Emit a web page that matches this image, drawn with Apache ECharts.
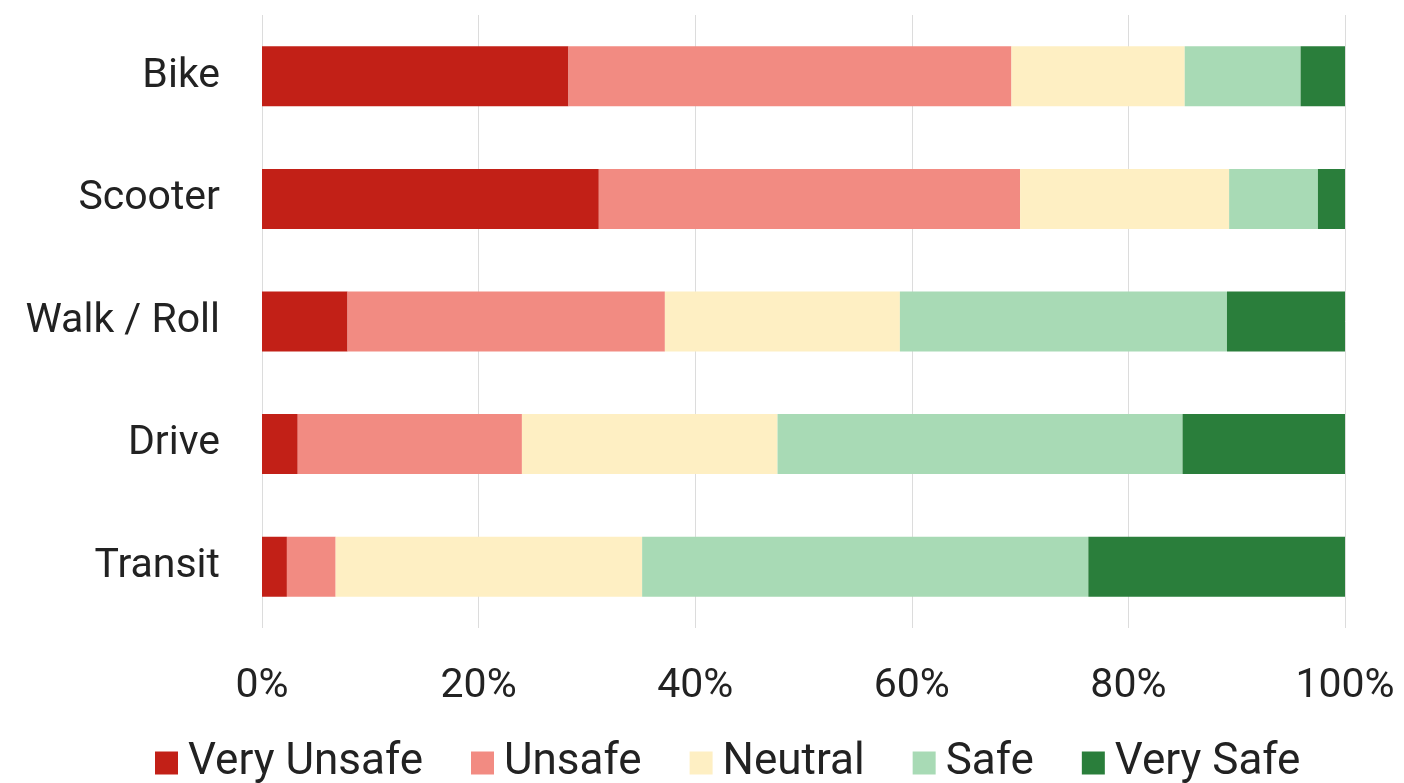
<!DOCTYPE html>
<html>
<head>
<meta charset="utf-8">
<script src="https://cdn.jsdelivr.net/npm/echarts@6/dist/echarts.min.js"></script>
<style>
  html, body { margin: 0; padding: 0; background: #fff; }
  #chart { width: 1404px; height: 783px; }
</style>
</head>
<body>
<div id="chart"></div>
<script>
var categories = ['Bike', 'Scooter', 'Walk / Roll', 'Drive', 'Transit'];
var seriesNames = ['Very Unsafe', 'Unsafe', 'Neutral', 'Safe', 'Very Safe'];
var veryUnsafe = [28.3, 31.1, 7.9, 3.3, 2.3];
var unsafe     = [40.9, 38.9, 29.3, 20.7, 4.5];
var neutral    = [16.0, 19.3, 21.7, 23.6, 28.3];
var safe       = [10.7, 8.2, 30.2, 37.4, 41.2];
var verySafe   = [4.1, 2.5, 10.9, 15.0, 23.7];
var xTicks = [0, 20, 40, 60, 80, 100];

var colors = ['#C22017', '#F28B82', '#FEEFC3', '#A8DAB5', '#2A7E3B'];
var values = [veryUnsafe, unsafe, neutral, safe, verySafe];

var myChart = echarts.init(document.getElementById('chart'));

var option = {
  animation: false,
  color: colors,
  textStyle: { fontFamily: 'Roboto' },
  legend: {
    top: 736,
    left: 150,
    itemWidth: 23,
    itemHeight: 23,
    itemGap: 48,
    icon: 'rect',
    textStyle: { fontSize: 44, color: '#222', padding: [0, 0, 0, 5] },
    data: seriesNames
  },
  grid: {
    left: 262,
    right: 59,
    top: 15,
    bottom: 155
  },
  xAxis: {
    type: 'value',
    min: xTicks[0],
    max: xTicks[xTicks.length - 1],
    interval: 20,
    axisLine: { show: false },
    axisTick: { show: false },
    splitLine: { lineStyle: { color: '#dcdcdc', width: 1 } },
    axisLabel: {
      fontSize: 41,
      color: '#222',
      margin: 38,
      formatter: '{value}%'
    }
  },
  yAxis: {
    type: 'category',
    inverse: true,
    data: categories,
    axisLine: { show: false },
    axisTick: { show: false },
    axisLabel: { fontSize: 41, color: '#222', margin: 42 }
  },
  series: seriesNames.map(function (name, i) {
    return {
      name: name,
      type: 'bar',
      stack: 'total',
      barWidth: 60,
      data: values[i]
    };
  })
};

myChart.setOption(option);
window.addEventListener('resize', function () {
  myChart.resize();
});
</script>
</body>
</html>
